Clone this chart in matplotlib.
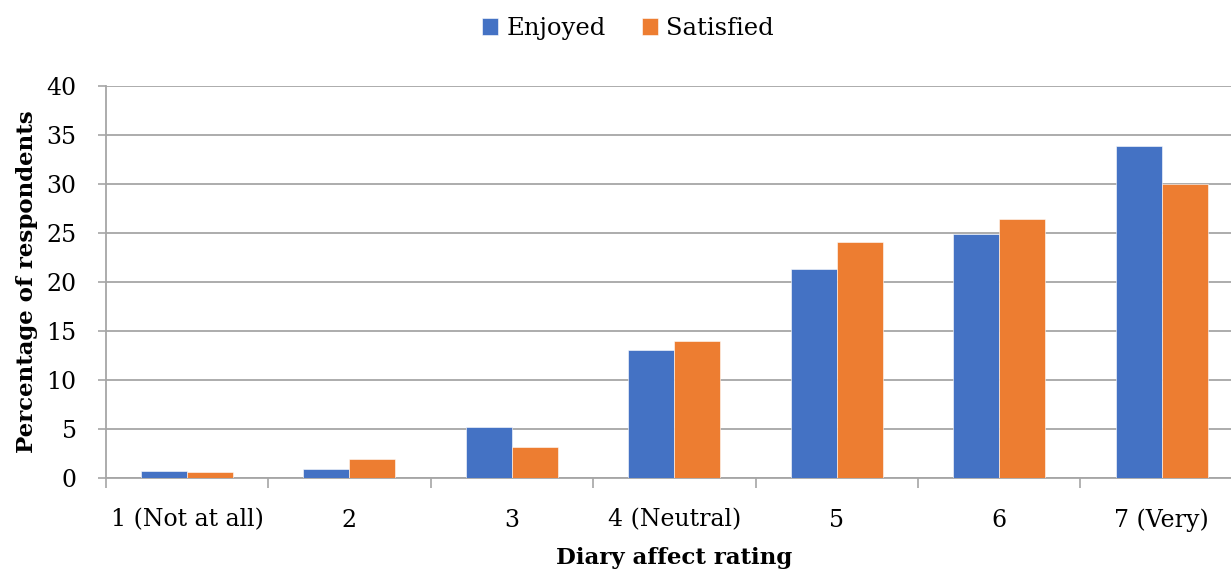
import numpy as np
import matplotlib.pyplot as plt

# Data
categories = ['1 (Not at all)', '2', '3', '4 (Neutral)', '5', '6', '7 (Very)']
enjoyed = [0.7, 0.9, 5.2, 13.1, 21.3, 24.9, 33.9]
satisfied = [0.6, 1.9, 3.2, 14.0, 24.1, 26.4, 30.0]

blue = '#4472C4'
orange = '#ED7D31'
grid_col = '#A6A6A6'

plt.rcParams['font.family'] = ['DejaVu Serif']

fig = plt.figure(figsize=(12.31, 5.69), dpi=100)
ax = fig.add_axes([0.0859, 0.160, 0.9238, 0.689])

x = np.arange(len(categories))
w = 0.283
ax.bar(x - w / 2, enjoyed, w, color=blue, label='Enjoyed', zorder=3,
       edgecolor='white', linewidth=0.4)
ax.bar(x + w / 2, satisfied, w, color=orange, label='Satisfied', zorder=3,
       edgecolor='white', linewidth=0.4)

ax.set_xlim(-0.5, len(categories) - 0.5)
ax.set_ylim(0, 40)
ax.set_yticks(np.arange(0, 41, 5))
ax.yaxis.grid(True, color=grid_col, linewidth=1.3, zorder=0)

# category labels centred, tick marks at category boundaries
ax.set_xticks(x)
ax.set_xticklabels(categories, fontsize=17)
ax.tick_params(axis='x', which='major', length=0, pad=22)
ax.set_xticks(np.arange(-0.5, len(categories), 1), minor=True)
ax.tick_params(axis='x', which='minor', length=7, width=1.2, color=grid_col)
ax.tick_params(axis='y', length=6, width=1.2, color=grid_col, labelsize=17, pad=15)

for s in ['top', 'right']:
    ax.spines[s].set_visible(False)
ax.spines['left'].set_color(grid_col)
ax.spines['left'].set_linewidth(1.3)
ax.spines['bottom'].set_color(grid_col)
ax.spines['bottom'].set_linewidth(1.3)

ax.set_xlabel('Diary affect rating', fontsize=16.5, fontweight='bold', labelpad=11)
ax.set_ylabel('Percentage of respondents', fontsize=16.5, fontweight='bold', labelpad=6)

fig.legend(loc='upper center', bbox_to_anchor=(0.51, 1.0), ncol=2, frameon=False,
           fontsize=17.5, handlelength=0.65, handleheight=0.65, handletextpad=0.35,
           columnspacing=1.5, borderaxespad=0.3)

fig.savefig('out.png', dpi=100)
